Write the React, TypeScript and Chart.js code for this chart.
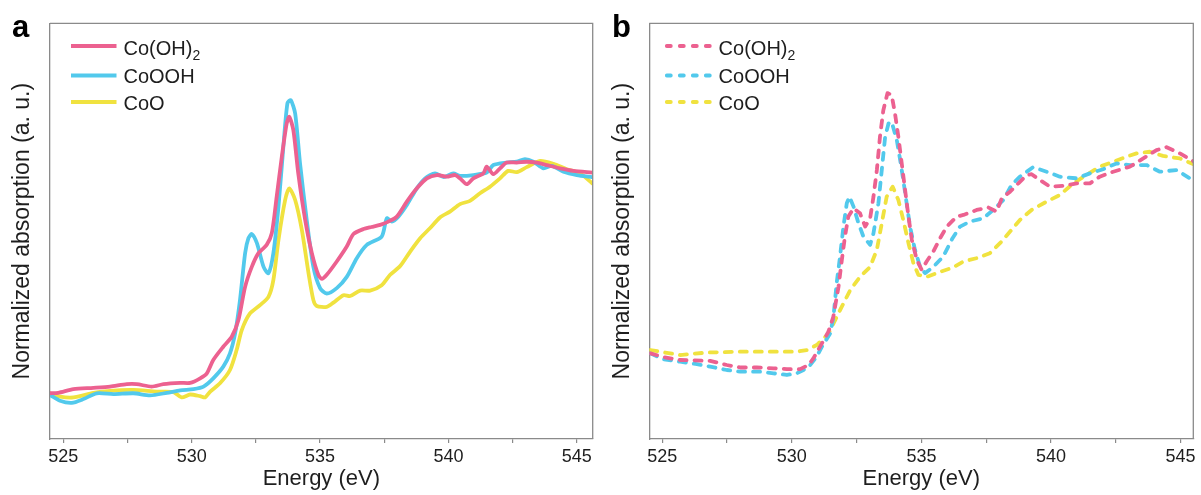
import React, { useEffect, useRef } from "react";
import { Chart, registerables } from "chart.js";

Chart.register(...registerables);

const FONT = "'Liberation Sans', Arial, Helvetica, sans-serif";
const AXIS_COLOR = "#8a8a8a";
const TEXT_COLOR = "#1e1e1e";

const seriesLabels = ["Co(OH)₂", "CoOOH", "CoO"];
const seriesColors = ["#EC6190", "#52C9EC", "#F0E23F"];
const xTickValues = [525, 527.5, 530, 532.5, 535, 537.5, 540, 542.5, 545];
const xTickLabels = ["525", "", "530", "", "535", "", "540", "", "545"];
const xTitle = "Energy (eV)";
const yTitle = "Normalized absorption (a. u.)";
const panelLetters = ["a", "b"];

// Panel a (solid lines): [energy eV, normalized absorption]
const aCoOH2: [number, number][] = [
  [524.48, 0.110], [524.8, 0.111], [525.39, 0.12], [526.17, 0.123], [526.82, 0.126], [527.47, 0.132],
  [527.86, 0.132], [528.44, 0.126], [528.9, 0.132], [529.55, 0.135], [529.94, 0.135], [530.33, 0.146],
  [530.59, 0.158], [530.84, 0.19], [531.23, 0.222], [531.56, 0.246], [531.82, 0.286], [532.08, 0.366],
  [532.34, 0.414], [532.6, 0.447], [532.92, 0.467], [533.12, 0.495], [533.31, 0.583], [533.51, 0.679],
  [533.7, 0.759], [533.8, 0.775], [533.96, 0.743], [534.15, 0.639], [534.42, 0.527], [534.68, 0.447],
  [534.93, 0.395], [535.07, 0.385], [535.26, 0.395], [535.65, 0.427], [536.04, 0.463], [536.3, 0.493],
  [536.69, 0.505], [537.0, 0.51], [537.34, 0.515], [537.66, 0.523], [537.99, 0.535], [538.38, 0.571],
  [538.77, 0.603], [539.16, 0.627], [539.55, 0.635], [539.94, 0.631], [540.26, 0.635], [540.45, 0.627],
  [540.71, 0.613], [540.97, 0.627], [541.36, 0.639], [541.49, 0.655], [541.75, 0.637], [542.01, 0.651],
  [542.27, 0.665], [542.66, 0.665], [543.05, 0.667], [543.44, 0.665], [543.83, 0.659], [544.35, 0.651],
  [544.87, 0.645], [545.6, 0.641],
];
const aCoOOH: [number, number][] = [
  [524.48, 0.106], [524.87, 0.092], [525.33, 0.087], [525.78, 0.096], [526.3, 0.11], [526.95, 0.108],
  [527.73, 0.11], [528.38, 0.105], [529.03, 0.111], [529.55, 0.117], [530.07, 0.12], [530.46, 0.126],
  [530.84, 0.146], [531.23, 0.174], [531.49, 0.206], [531.69, 0.254], [531.88, 0.334], [532.08, 0.447],
  [532.21, 0.483], [532.34, 0.493], [532.54, 0.471], [532.8, 0.414], [532.99, 0.399], [533.18, 0.447],
  [533.38, 0.559], [533.57, 0.703], [533.73, 0.808], [533.86, 0.815], [534.03, 0.783], [534.22, 0.663],
  [534.48, 0.527], [534.74, 0.414], [535.0, 0.363], [535.26, 0.35], [535.65, 0.363], [536.04, 0.39],
  [536.43, 0.435], [536.82, 0.467], [537.4, 0.487], [537.6, 0.531], [537.79, 0.523], [538.05, 0.535],
  [538.38, 0.563], [538.77, 0.603], [539.09, 0.627], [539.48, 0.639], [539.81, 0.63], [540.19, 0.639],
  [540.45, 0.633], [540.97, 0.635], [541.49, 0.641], [541.75, 0.659], [542.27, 0.665], [542.66, 0.667],
  [542.98, 0.673], [543.31, 0.667], [543.7, 0.651], [544.02, 0.657], [544.48, 0.643], [545.0, 0.635],
  [545.6, 0.63],
];
const aCoO: [number, number][] = [
  [524.48, 0.11], [524.87, 0.102], [525.39, 0.1], [526.17, 0.111], [526.82, 0.116], [527.73, 0.118],
  [528.64, 0.114], [529.29, 0.113], [529.61, 0.1], [529.94, 0.107], [530.33, 0.103], [530.52, 0.1],
  [530.72, 0.114], [531.1, 0.134], [531.49, 0.166], [531.75, 0.214], [531.95, 0.262], [532.27, 0.302],
  [532.66, 0.322], [532.99, 0.342], [533.18, 0.382], [533.38, 0.479], [533.64, 0.575], [533.8, 0.603],
  [534.03, 0.575], [534.29, 0.503], [534.55, 0.399], [534.74, 0.334], [534.87, 0.32], [535.26, 0.318],
  [535.52, 0.328], [535.91, 0.346], [536.17, 0.344], [536.56, 0.357], [536.95, 0.357], [537.4, 0.37],
  [537.73, 0.395], [538.12, 0.416], [538.51, 0.451], [538.9, 0.483], [539.28, 0.507], [539.67, 0.533],
  [540.06, 0.547], [540.45, 0.565], [540.84, 0.573], [541.23, 0.591], [541.62, 0.607], [542.01, 0.627],
  [542.33, 0.645], [542.66, 0.642], [543.05, 0.654], [543.57, 0.669], [544.09, 0.662], [544.61, 0.649],
  [545.13, 0.639], [545.6, 0.615],
];

// Panel b (dashed lines)
const bCoOH2: [number, number][] = [
  [524.54, 0.206], [525.05, 0.197], [525.69, 0.19], [526.85, 0.188], [527.49, 0.178], [528.01, 0.172],
  [528.65, 0.172], [529.29, 0.17], [529.81, 0.168], [530.32, 0.168], [530.64, 0.178], [530.83, 0.194],
  [531.16, 0.23], [531.41, 0.258], [531.6, 0.294], [531.8, 0.366], [531.93, 0.431], [532.05, 0.487],
  [532.18, 0.535], [532.38, 0.555], [532.63, 0.543], [532.83, 0.511], [533.02, 0.531], [533.15, 0.583],
  [533.28, 0.647], [533.4, 0.727], [533.53, 0.791], [533.69, 0.832], [533.85, 0.828], [533.98, 0.783],
  [534.11, 0.727], [534.24, 0.663], [534.37, 0.599], [534.5, 0.535], [534.63, 0.479], [534.82, 0.431],
  [535.01, 0.407], [535.2, 0.427], [535.46, 0.451], [535.72, 0.483], [535.98, 0.511], [536.36, 0.535],
  [536.62, 0.539], [537.13, 0.551], [537.58, 0.557], [537.9, 0.547], [538.1, 0.579], [538.42, 0.595],
  [538.74, 0.615], [539.06, 0.635], [539.25, 0.637], [539.57, 0.623], [539.96, 0.607], [540.47, 0.609],
  [540.99, 0.615], [541.5, 0.615], [541.88, 0.631], [542.4, 0.643], [543.04, 0.655], [543.56, 0.675],
  [544.07, 0.695], [544.46, 0.702], [544.97, 0.687], [545.5, 0.668],
];
const bCoOOH: [number, number][] = [
  [524.54, 0.206], [525.05, 0.192], [525.69, 0.186], [526.34, 0.18], [526.85, 0.174], [527.49, 0.166],
  [528.01, 0.162], [528.78, 0.162], [529.29, 0.158], [529.81, 0.154], [530.19, 0.158], [530.45, 0.166],
  [530.71, 0.178], [530.96, 0.198], [531.16, 0.222], [531.48, 0.254], [531.6, 0.29], [531.73, 0.375],
  [531.86, 0.439], [531.99, 0.511], [532.12, 0.567], [532.22, 0.583], [532.38, 0.559], [532.57, 0.519],
  [532.76, 0.487], [533.02, 0.467], [533.15, 0.495], [533.34, 0.567], [533.47, 0.647], [533.6, 0.727],
  [533.73, 0.759], [533.85, 0.763], [534.05, 0.719], [534.18, 0.671], [534.3, 0.623], [534.43, 0.567],
  [534.56, 0.511], [534.75, 0.455], [534.95, 0.414], [535.14, 0.399], [535.46, 0.414], [535.84, 0.439],
  [536.2, 0.483], [536.49, 0.511], [536.87, 0.523], [537.39, 0.531], [537.77, 0.551], [538.16, 0.575],
  [538.48, 0.611], [538.8, 0.631], [539.31, 0.654], [539.83, 0.643], [540.34, 0.631], [540.99, 0.627],
  [541.5, 0.639], [542.01, 0.649], [542.53, 0.663], [543.04, 0.659], [543.69, 0.659], [544.2, 0.643],
  [544.84, 0.647], [545.36, 0.627], [545.5, 0.62],
];
const bCoO: [number, number][] = [
  [524.54, 0.214], [525.69, 0.202], [526.72, 0.208], [528.01, 0.21], [529.29, 0.21], [530.19, 0.21],
  [530.58, 0.214], [530.96, 0.226], [531.41, 0.253], [531.86, 0.31], [532.25, 0.358], [532.63, 0.39],
  [533.02, 0.414], [533.28, 0.455], [533.47, 0.519], [533.66, 0.583], [533.89, 0.607], [534.11, 0.575],
  [534.3, 0.527], [534.5, 0.471], [534.69, 0.423], [534.88, 0.395], [535.2, 0.39], [535.72, 0.402],
  [536.2, 0.412], [536.62, 0.427], [537.13, 0.435], [537.64, 0.447], [538.03, 0.471], [538.42, 0.499],
  [538.8, 0.527], [539.25, 0.551], [539.83, 0.571], [540.34, 0.587], [540.86, 0.615], [541.37, 0.635],
  [541.88, 0.655], [542.4, 0.667], [542.91, 0.679], [543.3, 0.687], [543.81, 0.691], [544.32, 0.681],
  [544.97, 0.675], [545.5, 0.661],
];

type PanelProps = {
  series: [number, number][][];
  dashed: boolean;
  letter: string;
  width: number;
  left: number;
  yAxisWidth: number;
  rightPad: number;
  xMin: number;
  xMax: number;
  legendLineStart: number;
  legendLineEnd: number;
  legendTextX: number;
};

const legendLineY = [46, 75.5, 102];
const legendTextBase = [55, 83.3, 109.5];

function drawLabel(ctx: CanvasRenderingContext2D, text: string, x: number, y: number) {
  const subMap: Record<string, string> = { "₂": "2" };
  let cx = x;
  for (const ch of text) {
    if (subMap[ch]) {
      ctx.font = `14px ${FONT}`;
      ctx.fillText(subMap[ch], cx, y + 4.5);
      cx += ctx.measureText(subMap[ch]).width;
      ctx.font = `20px ${FONT}`;
    } else {
      ctx.fillText(ch, cx, y);
      cx += ctx.measureText(ch).width;
    }
  }
}

function Panel(p: PanelProps) {
  const ref = useRef<HTMLCanvasElement | null>(null);
  useEffect(() => {
    if (!ref.current) return;
    const decor = {
      id: "decor",
      afterDraw(chart: any) {
        const { ctx, chartArea: ca } = chart;
        ctx.save();
        ctx.strokeStyle = AXIS_COLOR;
        ctx.lineWidth = 1.3;
        ctx.beginPath();
        ctx.moveTo(ca.left, ca.top);
        ctx.lineTo(ca.right, ca.top);
        ctx.lineTo(ca.right, ca.bottom);
        ctx.stroke();
        chart.data.datasets.forEach((ds: any, i: number) => {
          const y = legendLineY[i];
          ctx.strokeStyle = ds.borderColor;
          ctx.lineWidth = 3.8;
          ctx.lineCap = p.dashed ? "round" : "butt";
          ctx.setLineDash(p.dashed ? [4, 9] : []);
          ctx.beginPath();
          ctx.moveTo(ca.left + p.legendLineStart, y);
          ctx.lineTo(ca.left + p.legendLineEnd, y);
          ctx.stroke();
          ctx.setLineDash([]);
          ctx.fillStyle = TEXT_COLOR;
          ctx.font = `20px ${FONT}`;
          ctx.textBaseline = "alphabetic";
          ctx.textAlign = "left";
          drawLabel(ctx, ds.label, ca.left + p.legendTextX, legendTextBase[i]);
        });
        ctx.fillStyle = "#000";
        ctx.font = `bold 31px ${FONT}`;
        ctx.textAlign = "left";
        ctx.textBaseline = "alphabetic";
        ctx.fillText(p.letter, 12, 37);
        ctx.restore();
      },
    };
    const chart = new Chart(ref.current, {
      type: "line",
      data: {
        datasets: p.series.map((s, i) => ({
          label: seriesLabels[i],
          data: s.map(([x, y]) => ({ x, y })),
          borderColor: seriesColors[i],
          backgroundColor: seriesColors[i],
          borderWidth: 3.8,
          pointRadius: 0,
          fill: false,
          tension: p.dashed ? 0 : 0.25,
          borderDash: p.dashed ? [7, 8] : [],
          borderCapStyle: "round",
          borderJoinStyle: "round",
        })),
      },
      options: {
        animation: false,
        responsive: false,
        maintainAspectRatio: false,
        layout: { padding: { top: 23.3, right: p.rightPad, left: 0, bottom: 0 } },
        plugins: { legend: { display: false }, tooltip: { enabled: false } },
        events: [],
        scales: {
          x: {
            type: "linear",
            min: p.xMin,
            max: p.xMax,
            afterBuildTicks: (s: any) => {
              s.ticks = xTickValues.map((v) => ({ value: v }));
            },
            afterFit: (s: any) => {
              s.height = 56;
            },
            ticks: {
              callback: (v: any) => {
                const i = xTickValues.indexOf(Number(v));
                return i >= 0 ? xTickLabels[i] : "";
              },
              font: { size: 18, family: FONT },
              color: TEXT_COLOR,
              padding: 3,
              maxRotation: 0,
              autoSkip: false,
            },
            grid: { drawOnChartArea: false, drawTicks: true, tickLength: 4, color: AXIS_COLOR, lineWidth: 1.2 },
            border: { display: true, color: AXIS_COLOR, width: 1.3 },
            title: {
              display: true,
              text: xTitle,
              font: { size: 22, family: FONT },
              color: TEXT_COLOR,
              padding: { top: 0, bottom: 3 },
            },
          },
          y: {
            type: "linear",
            min: 0,
            max: 1,
            afterFit: (s: any) => {
              s.width = p.yAxisWidth;
            },
            ticks: { display: false },
            grid: { display: false },
            border: { display: true, color: AXIS_COLOR, width: 1.3 },
            title: {
              display: true,
              text: yTitle,
              font: { size: 23, family: FONT },
              color: TEXT_COLOR,
              padding: { top: 9, bottom: 0 },
            },
          },
        },
      },
      plugins: [decor],
    } as any);
    return () => chart.destroy();
  }, []);
  return (
    <canvas
      ref={ref}
      width={p.width}
      height={495}
      style={{ position: "absolute", left: p.left, top: 0, width: p.width, height: 495 }}
    />
  );
}

export default function App() {
  return (
    <div style={{ position: "absolute", left: 0, top: 0, width: 1201, height: 495, background: "#fff" }}>
      <Panel
        series={[aCoOH2, aCoOOH, aCoO]}
        dashed={false}
        letter={panelLetters[0]}
        width={600}
        left={0}
        yAxisWidth={50}
        rightPad={7.3}
        xMin={524.48}
        xMax={545.62}
        legendLineStart={21}
        legendLineEnd={66.5}
        legendTextX={73.5}
      />
      <Panel
        series={[bCoOH2, bCoOOH, bCoO]}
        dashed={true}
        letter={panelLetters[1]}
        width={601}
        left={600}
        yAxisWidth={49.3}
        rightPad={7.7}
        xMin={524.5}
        xMax={545.49}
        legendLineStart={17.5}
        legendLineEnd={63}
        legendTextX={69.3}
      />
    </div>
  );
}
